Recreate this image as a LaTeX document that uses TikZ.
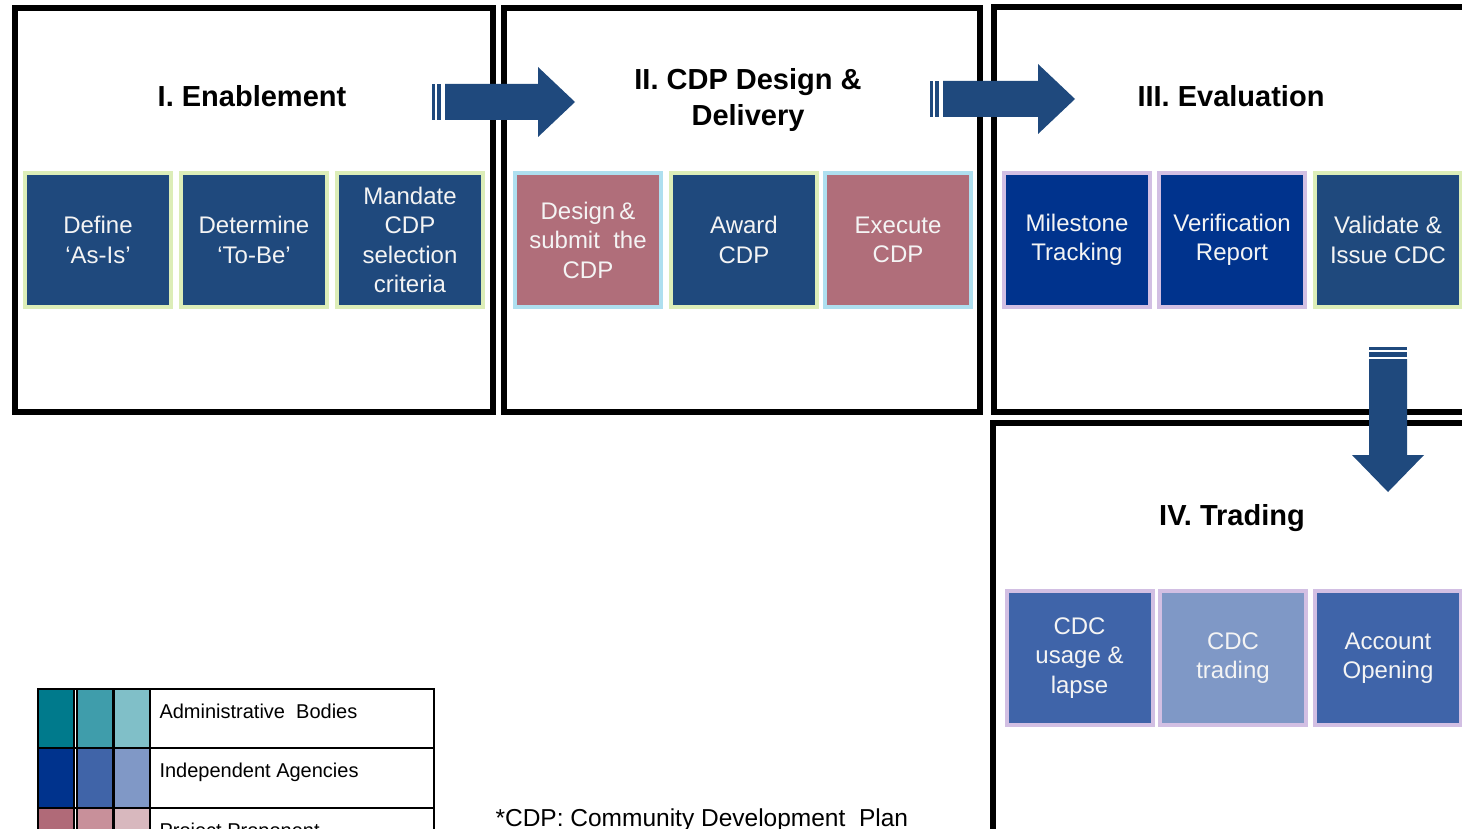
\documentclass[tikz,border=0pt]{standalone}
\usepackage{fontspec}
\setmainfont{Liberation Sans}
\definecolor{dblue}{HTML}{1F497D}
\definecolor{rose}{HTML}{B06E7A}
\definecolor{navy}{HTML}{00338D}
\definecolor{mblue}{HTML}{3F64A9}
\definecolor{lblue}{HTML}{7F98C6}
\definecolor{gglow}{HTML}{DCEDB8}
\definecolor{cglow}{HTML}{AEDFEF}
\definecolor{pglow}{HTML}{D2BFE3}
\definecolor{tealA}{HTML}{007A8C}
\definecolor{tealB}{HTML}{3F9DAB}
\definecolor{tealC}{HTML}{80BFC8}
\definecolor{navyB}{HTML}{4064A8}
\definecolor{navyC}{HTML}{8098C6}
\definecolor{roseA}{HTML}{B06A78}
\definecolor{roseB}{HTML}{C8909A}
\definecolor{roseC}{HTML}{D8B8BE}
\definecolor{btext}{HTML}{F4F4F4}
\begin{document}
\begin{tikzpicture}[x=1pt,y=-1pt,
  box/.style={minimum width=146pt, minimum height=134pt, inner sep=0pt, align=center,
    text=btext, font=\fontsize{24}{29.5}\selectfont, line width=4pt},
  panel/.style={draw=black, line width=6pt, inner sep=0pt},
  ttl/.style={font=\fontsize{29}{36}\selectfont\bfseries, align=center},
  blockarrow/.style={fill=dblue},
  legtxt/.style={anchor=base west, font=\fontsize{20}{24}\selectfont},
  legcell/.style={draw=black, line width=1.5pt}
]
\useasboundingbox (0,0) rectangle (1462,829);
\clip (0,0) rectangle (1462,829);
\fill[white] (0,0) rectangle (1462,829);

% panels
\node[panel, minimum width=478pt, minimum height=404pt] (p1) at (253.5,210) {};
\node[panel, minimum width=476.5pt, minimum height=404pt] (p2) at (741.75,210) {};
\node[panel, minimum width=480pt, minimum height=405pt] (p3) at (1233.5,209.5) {};
\node[panel, minimum width=480pt, minimum height=420pt] (p4) at (1233,633) {};

% titles
\node[ttl] (t1) at (252,96) {I. Enablement};
\node[ttl] (t2) at (748,100) {II. CDP Design \&\\Delivery};
\node[ttl] (t3) at (1231,96) {III. Evaluation};
\node[ttl] (t4) at (1232,518) {IV. Trading};

% row 1 boxes
\node[box, fill=dblue, draw=gglow] (b11) at (98,240) {Define\\‘As-Is’};
\node[box, fill=dblue, draw=gglow] (b12) at (254,240) {Determine\\‘To-Be’};
\node[box, fill=dblue, draw=gglow] (b13) at (410,240) {Mandate\\CDP\\selection\\criteria};
\node[box, fill=rose, draw=cglow] (b21) at (588,240) {Design\,\&\\submit~ the\\CDP};
\node[box, fill=dblue, draw=gglow] (b22) at (744,240) {Award\\CDP};
\node[box, fill=rose, draw=cglow] (b23) at (898,240) {Execute\\CDP};
\node[box, fill=navy, draw=pglow] (b31) at (1077,240) {Milestone\\Tracking};
\node[box, fill=navy, draw=pglow] (b32) at (1232,240) {Verification\\Report};
\node[box, fill=dblue, draw=gglow] (b33) at (1388,240) {Validate \&\\Issue CDC};
% row 2 boxes
\node[box, fill=mblue, draw=pglow] (b41) at (1079.5,658) {CDC\\usage \&\\lapse};
\node[box, fill=lblue, draw=pglow] (b42) at (1233,658) {CDC\\trading};
\node[box, fill=mblue, draw=pglow] (b43) at (1388,658) {Account\\Opening};

% block arrows
\fill[blockarrow] (432,84) rectangle (435,120);
\fill[blockarrow] (437,84) rectangle (441,120);
\fill[blockarrow] (445,84) -- (538,84) -- (538,67) -- (575,102) -- (538,137) -- (538,120) -- (445,120) -- cycle;

\fill[blockarrow] (930,81) rectangle (933,117);
\fill[blockarrow] (935,81) rectangle (939,117);
\fill[blockarrow] (943,81) -- (1038,81) -- (1038,64) -- (1075,99) -- (1038,134) -- (1038,117) -- (943,117) -- cycle;

\fill[blockarrow] (1369,347) rectangle (1407,350);
\fill[blockarrow] (1369,352) rectangle (1407,356.5);
\fill[blockarrow] (1369,359) -- (1369,455) -- (1352,455) -- (1388,492) -- (1424,455) -- (1407,455) -- (1407,359) -- cycle;

% legend
\fill[tealA] (38,689) rectangle (74,748);
\fill[tealB] (77,689) rectangle (113.5,748);
\fill[tealC] (113.5,689) rectangle (150,748);
\fill[navy] (38,748) rectangle (74,808);
\fill[navyB] (77,748) rectangle (113.5,808);
\fill[navyC] (113.5,748) rectangle (150,808);
\fill[roseA] (38,808) rectangle (74,840);
\fill[roseB] (77,808) rectangle (113.5,840);
\fill[roseC] (113.5,808) rectangle (150,840);
\draw[legcell] (38,689) rectangle (434,840);
\draw[legcell] (38,748) -- (434,748);
\draw[legcell] (38,808) -- (434,808);
\draw[line width=2.5pt] (74,689) -- (74,840);
\draw[line width=2.5pt] (77,689) -- (77,840);
\draw[line width=2.5pt] (113.5,689) -- (113.5,840);
\draw[line width=2pt] (150,689) -- (150,840);
\node[legtxt] (l1) at (156,718) {Administrative~ Bodies};
\node[legtxt] (l2) at (156,777.5) {Independent Agencies};
\node[legtxt] (l3) at (156,837) {Project Proponent};

\node[anchor=base west, font=\fontsize{24.5}{28}\selectfont] (note) at (492,826) {*CDP: Community Development~ Plan};
\end{tikzpicture}
\end{document}
